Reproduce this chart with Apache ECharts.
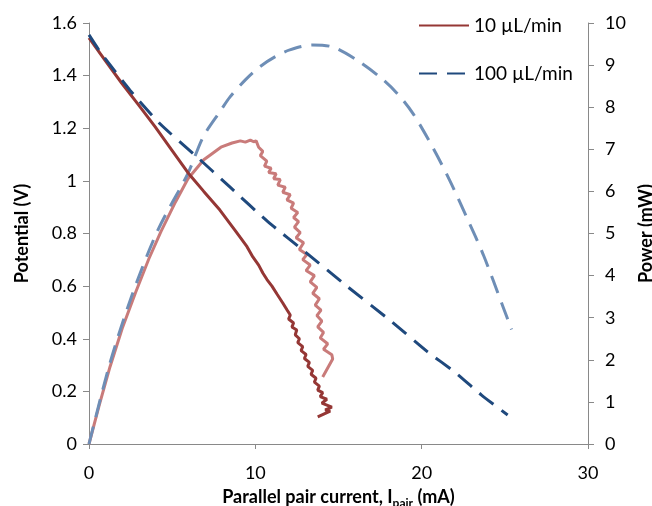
<!DOCTYPE html>
<html>
<head>
<meta charset="utf-8">
<script src="https://cdn.jsdelivr.net/npm/echarts@6/dist/echarts.min.js"></script>
<style>html,body{margin:0;padding:0;background:#fff;overflow:hidden}#c{width:652px;height:506px}</style>
</head>
<body>
<div id="c"></div>
<script>
// 10 µL/min potential (current mA, potential V)
const red10Current = [0,1.0,1.96,3.0,3.98,5.0,5.96,6.9,7.87,8.77,9.07,9.5,9.85,10.2,10.45,10.7,11.0,11.3,11.65,11.9,12.1,12.0,12.3,12.2,12.49,12.4,12.65,12.55,12.85,12.75,13.05,12.95,13.25,13.15,13.45,13.35,13.65,13.55,13.85,13.75,14.05,13.9,14.3,14.0,14.6,14.2,14.5,13.75];
const red10Potential = [1.543,1.455,1.372,1.287,1.205,1.115,1.03,0.96,0.889,0.813,0.787,0.75,0.711,0.68,0.65,0.625,0.60,0.57,0.536,0.51,0.49,0.475,0.46,0.445,0.433,0.415,0.40,0.385,0.37,0.355,0.34,0.325,0.31,0.295,0.28,0.265,0.25,0.235,0.22,0.205,0.195,0.18,0.17,0.155,0.14,0.13,0.125,0.103];
// 100 µL/min potential
const blue100Current = [0,0.72,2.46,4.3,6.37,8.5,10.75,13.0,15.5,18.08,20.36,21.98,23.6,25.17];
const blue100Potential = [1.555,1.486,1.345,1.215,1.098,0.975,0.845,0.73,0.60,0.471,0.35,0.274,0.186,0.11];
// 10 µL/min power (current mA, power mW)
const red10PowCurrent = [0,0.6,1.26,2.0,2.8,3.6,4.33,5.2,5.95,6.9,7.93,8.6,9.1,9.4,9.7,9.9,10.05,10.2,10.45,10.3,10.69,10.55,10.95,10.8,11.25,11.1,11.5,11.35,11.8,11.65,12.1,11.9,12.3,12.15,12.55,12.3,12.6,12.35,12.7,12.45,12.9,12.65,13.1,12.85,13.3,13.05,13.55,13.3,13.7,13.45,13.85,13.6,13.95,13.7,14.0,13.75,14.1,13.9,14.35,14.1,14.6,14.65,14.05];
const red10Power = [0,0.9,1.83,2.75,3.6,4.4,5.05,5.75,6.3,6.75,7.05,7.15,7.2,7.17,7.22,7.18,7.2,7.05,6.95,6.85,6.72,6.6,6.55,6.45,6.42,6.3,6.28,6.15,6.1,5.98,5.92,5.8,5.72,5.6,5.5,5.38,5.28,5.15,5.02,4.9,4.78,4.62,4.5,4.38,4.25,4.12,4.0,3.85,3.72,3.58,3.45,3.3,3.18,3.05,2.92,2.78,2.65,2.52,2.38,2.25,2.12,2.02,1.59];
// 100 µL/min power
const blue100PowCurrent = [0,1.26,2.6,4.14,5.95,6.87,7.93,8.47,9.4,10.27,11.2,12.07,13.45,14.65,16.1,17.48,18.5,19.46,20.66,21.7,22.7,23.7,24.9,25.4];
const blue100Power = [0,1.92,3.55,5.08,6.43,7.3,7.93,8.24,8.65,8.96,9.2,9.36,9.48,9.43,9.12,8.72,8.34,7.86,7.05,6.25,5.39,4.5,3.25,2.72];

const seriesNames = ['10 µL/min', '100 µL/min'];
const xTicks = [0, 10, 20, 30];

const zip = (a, b) => a.map((v, i) => [v, b[i]]);
const FONT = 'Lato, "Open Sans", sans-serif';
const axisLineColor = '#898989';

const chart = echarts.init(document.getElementById('c'), null, {renderer: 'canvas'});
chart.setOption({
  animation: false,
  backgroundColor: '#fff',
  textStyle: {fontFamily: FONT},
  grid: {left: 89, right: 64, top: 23, bottom: 62, containLabel: false, outerBoundsMode: 'none'},
  legend: {
    data: seriesNames,
    orient: 'vertical',
    left: 413,
    top: 11,
    itemWidth: 50,
    itemHeight: 14,
    itemGap: 29,
    itemStyle: {opacity: 0},
    textStyle: {fontFamily: FONT, fontSize: 19, color: '#000'}
  },
  xAxis: {
    type: 'value',
    min: xTicks[0], max: xTicks[xTicks.length - 1], interval: 10,
    name: '{a|Parallel pair current, I}{s|pair}{a| (mA)}',
    nameLocation: 'middle',
    nameGap: 41,
    nameTextStyle: {
      rich: {
        a: {fontFamily: FONT, fontSize: 18, fontWeight: 'bold', color: '#000', lineHeight: 24, verticalAlign: 'middle'},
        s: {fontFamily: FONT, fontSize: 12, fontWeight: 'bold', color: '#000', lineHeight: 12, verticalAlign: 'bottom'}
      }
    },
    axisLine: {onZero: false, lineStyle: {color: axisLineColor, width: 1}},
    axisTick: {show: true, length: 5, lineStyle: {color: axisLineColor}},
    axisLabel: {fontFamily: FONT, fontSize: 18, color: '#000', margin: 20},
    splitLine: {show: false}
  },
  yAxis: [{
    type: 'value',
    min: 0, max: 1.6, interval: 0.2,
    name: 'Potential (V)',
    nameLocation: 'middle',
    nameGap: 58,
    nameTextStyle: {fontFamily: FONT, fontSize: 18, fontWeight: 'bold', color: '#000'},
    axisLine: {show: true, lineStyle: {color: axisLineColor, width: 1}},
    axisTick: {show: true, length: 6, lineStyle: {color: axisLineColor}},
    axisLabel: {fontFamily: FONT, fontSize: 18, color: '#000', margin: 12},
    splitLine: {show: false}
  }, {
    type: 'value',
    min: 0, max: 10, interval: 1,
    position: 'right',
    name: 'Power (mW)',
    nameLocation: 'middle',
    nameGap: 45,
    nameRotate: 90,
    nameTextStyle: {fontFamily: FONT, fontSize: 18, fontWeight: 'bold', color: '#000'},
    axisLine: {show: true, lineStyle: {color: axisLineColor, width: 1}},
    axisTick: {show: true, length: 6, lineStyle: {color: axisLineColor}},
    axisLabel: {fontFamily: FONT, fontSize: 18, color: '#000', margin: 17},
    splitLine: {show: false}
  }],
  series: [
    {name: '10 µL/min power', type: 'line', yAxisIndex: 1, data: zip(red10PowCurrent, red10Power), symbol: 'none', smooth: false,
     lineStyle: {color: '#C97B7A', width: 3}, itemStyle: {color: '#C97B7A'}},
    {name: '100 µL/min power', type: 'line', yAxisIndex: 1, data: zip(blue100PowCurrent, blue100Power), symbol: 'none', smooth: 0.3,
     lineStyle: {color: '#6E8EB6', width: 3, type: [18, 10]}, itemStyle: {color: '#6E8EB6'}},
    {name: seriesNames[0], type: 'line', yAxisIndex: 0, data: zip(red10Current, red10Potential), symbol: 'none', smooth: false,
     lineStyle: {color: '#953735', width: 3}, itemStyle: {color: '#953735'}},
    {name: seriesNames[1], type: 'line', yAxisIndex: 0, data: zip(blue100Current, blue100Potential), symbol: 'none', smooth: 0.2,
     lineStyle: {color: '#1F497D', width: 3, type: [18, 10]}, itemStyle: {color: '#1F497D'}}
  ]
});
</script>
</body>
</html>
